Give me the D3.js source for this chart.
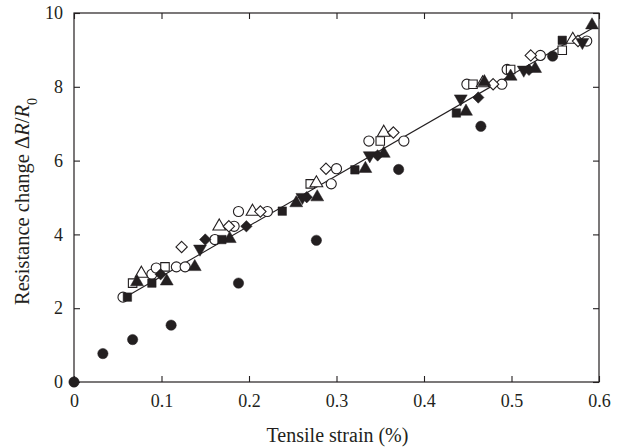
<!DOCTYPE html>
<html>
<head>
<meta charset="utf-8">
<script src="https://cdn.jsdelivr.net/npm/d3@7"></script>
<style>
  body { margin: 0; background: #fff; }
  text { font-family: "Liberation Serif", "Times New Roman", serif; fill: #231f20; }
</style>
</head>
<body>
<svg width="623" height="448"></svg>
<script>
// fitted line
var fitX = [0.061, 0.595],
    fitY = [2.33, 9.62];

// series, one per specimen marker
var filledCircleX = [0, 0.033, 0.067, 0.111, 0.188, 0.277, 0.371, 0.465, 0.547],
    filledCircleY = [0, 0.77, 1.15, 1.54, 2.68, 3.84, 5.76, 6.93, 8.83];

var filledSquareX = [0.061, 0.089, 0.169, 0.238, 0.321, 0.437, 0.558],
    filledSquareY = [2.30, 2.68, 3.86, 4.63, 5.75, 7.29, 9.26];

var filledTriUpX = [0.072, 0.106, 0.138, 0.178, 0.254, 0.278, 0.333, 0.354, 0.448, 0.469, 0.499, 0.527, 0.592],
    filledTriUpY = [2.71, 2.73, 3.12, 3.88, 4.85, 5.01, 5.78, 6.19, 7.33, 8.13, 8.28, 8.49, 9.67];

var filledTriDownX = [0.144, 0.261, 0.338, 0.442, 0.514, 0.581],
    filledTriDownY = [3.61, 5.01, 6.14, 7.68, 8.46, 9.21];

var filledDiamondX = [0.099, 0.150, 0.197, 0.266, 0.347, 0.462, 0.520],
    filledDiamondY = [2.92, 3.86, 4.22, 5.01, 6.14, 7.71, 8.46];

var openCircleX = [0.056, 0.089, 0.094, 0.117, 0.127, 0.161, 0.183, 0.188, 0.221, 0.294, 0.300, 0.337, 0.377, 0.449, 0.489, 0.495, 0.533, 0.586],
    openCircleY = [2.30, 2.92, 3.09, 3.12, 3.12, 3.86, 4.22, 4.62, 4.62, 5.37, 5.78, 6.53, 6.53, 8.07, 8.07, 8.47, 8.85, 9.24];

var openSquareX = [0.067, 0.104, 0.270, 0.350, 0.456, 0.499, 0.558],
    openSquareY = [2.68, 3.12, 5.37, 6.53, 8.07, 8.47, 8.99];

var openTriX = [0.077, 0.166, 0.204, 0.277, 0.354, 0.467, 0.570],
    openTriY = [2.94, 4.22, 4.62, 5.39, 6.76, 8.10, 9.28];

var openDiamondX = [0.123, 0.177, 0.213, 0.288, 0.365, 0.479, 0.522, 0.576],
    openDiamondY = [3.66, 4.22, 4.62, 5.78, 6.76, 8.07, 8.85, 9.24];

var xTicks = [0, 0.1, 0.2, 0.3, 0.4, 0.5, 0.6],
    yTicks = [0, 2, 4, 6, 8, 10];

var svg = d3.select("svg"),
    margin = {top: 13, right: 24, bottom: 66, left: 74},
    width = +svg.attr("width") - margin.left - margin.right,
    height = +svg.attr("height") - margin.top - margin.bottom;

var x = d3.scaleLinear().domain([0, 0.6]).range([0, width]),
    y = d3.scaleLinear().domain([0, 10]).range([height, 0]);

var g = svg.append("g")
    .attr("transform", "translate(" + margin.left + "," + margin.top + ")");

// frame
g.append("rect")
    .attr("width", width)
    .attr("height", height)
    .attr("fill", "none")
    .attr("stroke", "#231f20")
    .attr("stroke-width", 1.2);

// axes with inward ticks, mirrored on top and right
function styleAxis(sel) {
    sel.select(".domain").remove();
    sel.selectAll(".tick line").attr("stroke", "#231f20").attr("stroke-width", 1.1);
    sel.selectAll(".tick text").style("font-size", "18px").attr("fill", "#231f20");
}

g.append("g")
    .attr("transform", "translate(0," + height + ")")
    .call(d3.axisBottom(x).tickValues(xTicks).tickSize(-6).tickPadding(12)
        .tickFormat(function(d) { return d === 0 ? "0" : d3.format(".1f")(d); }))
    .call(styleAxis);

g.append("g")
    .call(d3.axisTop(x).tickValues(xTicks).tickSize(-6).tickFormat(""))
    .call(styleAxis);

g.append("g")
    .call(d3.axisLeft(y).tickValues(yTicks).tickSize(-6).tickPadding(11).tickFormat(d3.format("d")))
    .call(styleAxis);

g.append("g")
    .attr("transform", "translate(" + width + ",0)")
    .call(d3.axisRight(y).tickValues(yTicks).tickSize(-6).tickFormat(""))
    .call(styleAxis);

// axis titles
g.append("text")
    .attr("x", width / 2 + 1)
    .attr("y", height + 60)
    .attr("text-anchor", "middle")
    .style("font-size", "20px")
    .text("Tensile strain (%)");

var yl = g.append("text")
    .attr("transform", "translate(" + (-45) + "," + 292 + ") rotate(-90)")
    .attr("text-anchor", "start")
    .style("font-size", "20.5px");
yl.append("tspan").text("Resistance change \u0394");
yl.append("tspan").style("font-style", "italic").text("R");
yl.append("tspan").text("/");
yl.append("tspan").style("font-style", "italic").text("R");
yl.append("tspan").attr("baseline-shift", "sub").style("font-size", "14px").text("0");

// fitted line
g.append("line")
    .attr("x1", x(fitX[0])).attr("y1", y(fitY[0]))
    .attr("x2", x(fitX[1])).attr("y2", y(fitY[1]))
    .attr("stroke", "#231f20")
    .attr("stroke-width", 1.1);

function drawSeries(xs, ys, type, size, filled) {
    var sym = d3.symbol().type(type).size(size);
    g.append("g").selectAll("path")
        .data(xs.map(function(v, i) { return [v, ys[i]]; }))
        .enter().append("path")
        .attr("transform", function(d) { return "translate(" + x(d[0]) + "," + y(d[1]) + ")"; })
        .attr("d", sym)
        .attr("fill", filled ? "#231f20" : "#fff")
        .attr("stroke", "#231f20")
        .attr("stroke-width", filled ? 0.5 : 1.1);
}

var triDown = {
    draw: function(context, size) {
        var s = Math.sqrt(size / (Math.sqrt(3) / 4)), h = s * Math.sqrt(3) / 2;
        context.moveTo(-s / 2, -h / 3);
        context.lineTo(s / 2, -h / 3);
        context.lineTo(0, 2 * h / 3);
        context.closePath();
    }
};

// square turned 45 degrees
var rhomb = {
    draw: function(context, size) {
        var r = Math.sqrt(size / 2);
        context.moveTo(0, -r);
        context.lineTo(r, 0);
        context.lineTo(0, r);
        context.lineTo(-r, 0);
        context.closePath();
    }
};

drawSeries(openCircleX, openCircleY, d3.symbolCircle, 80, false);
drawSeries(openSquareX, openSquareY, d3.symbolSquare, 72, false);
drawSeries(openTriX, openTriY, d3.symbolTriangle, 70, false);
drawSeries(openDiamondX, openDiamondY, rhomb, 64, false);
drawSeries(filledCircleX, filledCircleY, d3.symbolCircle, 84, true);
drawSeries(filledSquareX, filledSquareY, d3.symbolSquare, 72, true);
drawSeries(filledTriUpX, filledTriUpY, d3.symbolTriangle, 72, true);
drawSeries(filledTriDownX, filledTriDownY, triDown, 72, true);
drawSeries(filledDiamondX, filledDiamondY, rhomb, 66, true);
</script>
</body>
</html>
